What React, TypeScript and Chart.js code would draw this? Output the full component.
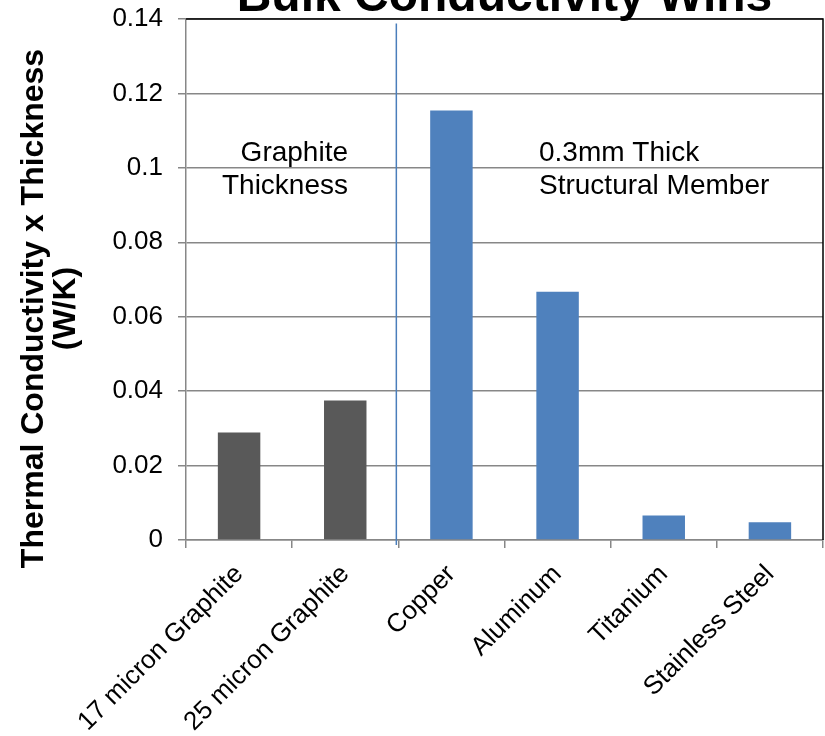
import React, { useEffect, useRef } from "react";
import { Chart, registerables } from "chart.js";

Chart.register(...registerables);

// Materials compared, left to right
const categories = [
  "17 micron Graphite",
  "25 micron Graphite",
  "Copper",
  "Aluminum",
  "Titanium",
  "Stainless Steel",
];

// Thermal conductivity x thickness (W/K)
const values = [0.0289, 0.0375, 0.1154, 0.0667, 0.0066, 0.0048];

// Graphite sheets in dark grey, 0.3mm structural metals in blue
const barColors = ["#595959", "#595959", "#4f81bd", "#4f81bd", "#4f81bd", "#4f81bd"];

const yMin = 0;
const yMax = 0.14;
const yStep = 0.02;

const titleText = "Bulk Conductivity Wins";
const yTitleLines = ["Thermal Conductivity x Thickness", "(W/K)"];
const graphiteNote = ["Graphite", "Thickness"];
const metalNote = ["0.3mm Thick", "Structural Member"];

const FONT = '"Liberation Sans", Arial, sans-serif';

const decorations = {
  id: "decorations",
  afterDraw(chart: any) {
    const { ctx, chartArea } = chart;
    const x = chart.scales.x;
    const y = chart.scales.y;
    ctx.save();

    // black frame on top and right of the plot area
    ctx.strokeStyle = "#000";
    ctx.lineWidth = 1.5;
    ctx.beginPath();
    ctx.moveTo(chartArea.left, chartArea.top);
    ctx.lineTo(chartArea.right, chartArea.top);
    ctx.lineTo(chartArea.right, chartArea.bottom);
    ctx.stroke();

    // divider between graphite and metals
    const divX = (x.getPixelForValue(1) + x.getPixelForValue(2)) / 2 - 2;
    ctx.strokeStyle = "#4a7ebb";
    ctx.lineWidth = 1.5;
    ctx.beginPath();
    ctx.moveTo(divX, y.getPixelForValue(0.1388));
    ctx.lineTo(divX, chartArea.bottom + 5);
    ctx.stroke();

    // chart title
    ctx.fillStyle = "#000";
    ctx.font = `bold 48px ${FONT}`;
    ctx.textAlign = "center";
    ctx.textBaseline = "alphabetic";
    ctx.fillText(titleText, (chartArea.left + chartArea.right) / 2, 11);

    // notes inside the plot
    ctx.font = `28px ${FONT}`;
    ctx.textAlign = "right";
    ctx.fillText(graphiteNote[0], 348, 161);
    ctx.fillText(graphiteNote[1], 348, 194);
    ctx.textAlign = "left";
    ctx.fillText(metalNote[0], 539, 161);
    ctx.fillText(metalNote[1], 539, 194);

    // y axis title, two rotated lines
    ctx.font = `bold 32px ${FONT}`;
    ctx.textAlign = "center";
    ctx.textBaseline = "alphabetic";
    ctx.translate(43, 308.5);
    ctx.rotate(-Math.PI / 2);
    ctx.fillText(yTitleLines[0], 0, 0);
    ctx.fillText(yTitleLines[1], 0, 32);
    ctx.restore();
  },
};

export default function App() {
  const ref = useRef<HTMLCanvasElement | null>(null);

  useEffect(() => {
    if (!ref.current) return;
    const chart = new Chart(ref.current, {
      type: "bar",
      data: {
        labels: categories,
        datasets: [
          {
            data: values,
            backgroundColor: barColors,
            barPercentage: 0.4,
            categoryPercentage: 1.0,
          },
        ],
      },
      options: {
        animation: false,
        responsive: false,
        maintainAspectRatio: false,
        layout: { padding: { top: 19, right: 2, left: 0, bottom: 0 } },
        plugins: {
          legend: { display: false },
          tooltip: { enabled: false },
          title: { display: false },
        },
        scales: {
          x: {
            offset: true,
            grid: {
              offset: true,
              drawOnChartArea: false,
              drawTicks: true,
              tickLength: 8,
              color: "#878787",
              lineWidth: 1.5,
            },
            border: { color: "#878787", width: 1.5 },
            ticks: {
              autoSkip: false,
              minRotation: 45,
              maxRotation: 45,
              padding: 11,
              color: "#000",
              font: { family: FONT, size: 26 },
            },
            afterFit(scale: any) {
              scale.height = 196;
            },
          },
          y: {
            min: yMin,
            max: yMax,
            grid: {
              color: "#878787",
              lineWidth: 1.5,
              tickLength: 8,
            },
            border: { color: "#878787", width: 1.5 },
            ticks: {
              stepSize: yStep,
              padding: 15,
              color: "#000",
              font: { family: FONT, size: 26 },
              callback: (v: any) => String(parseFloat(Number(v).toFixed(2))),
            },
            afterFit(scale: any) {
              scale.width = 186;
              scale.paddingTop = 0;
              scale.paddingBottom = 0;
            },
          },
        },
      },
      plugins: [decorations],
    });
    return () => chart.destroy();
  }, []);

  return (
    <div style={{ position: "absolute", left: 0, top: 0, width: 825, height: 736, background: "#fff" }}>
      <canvas ref={ref} width={825} height={736} />
    </div>
  );
}
